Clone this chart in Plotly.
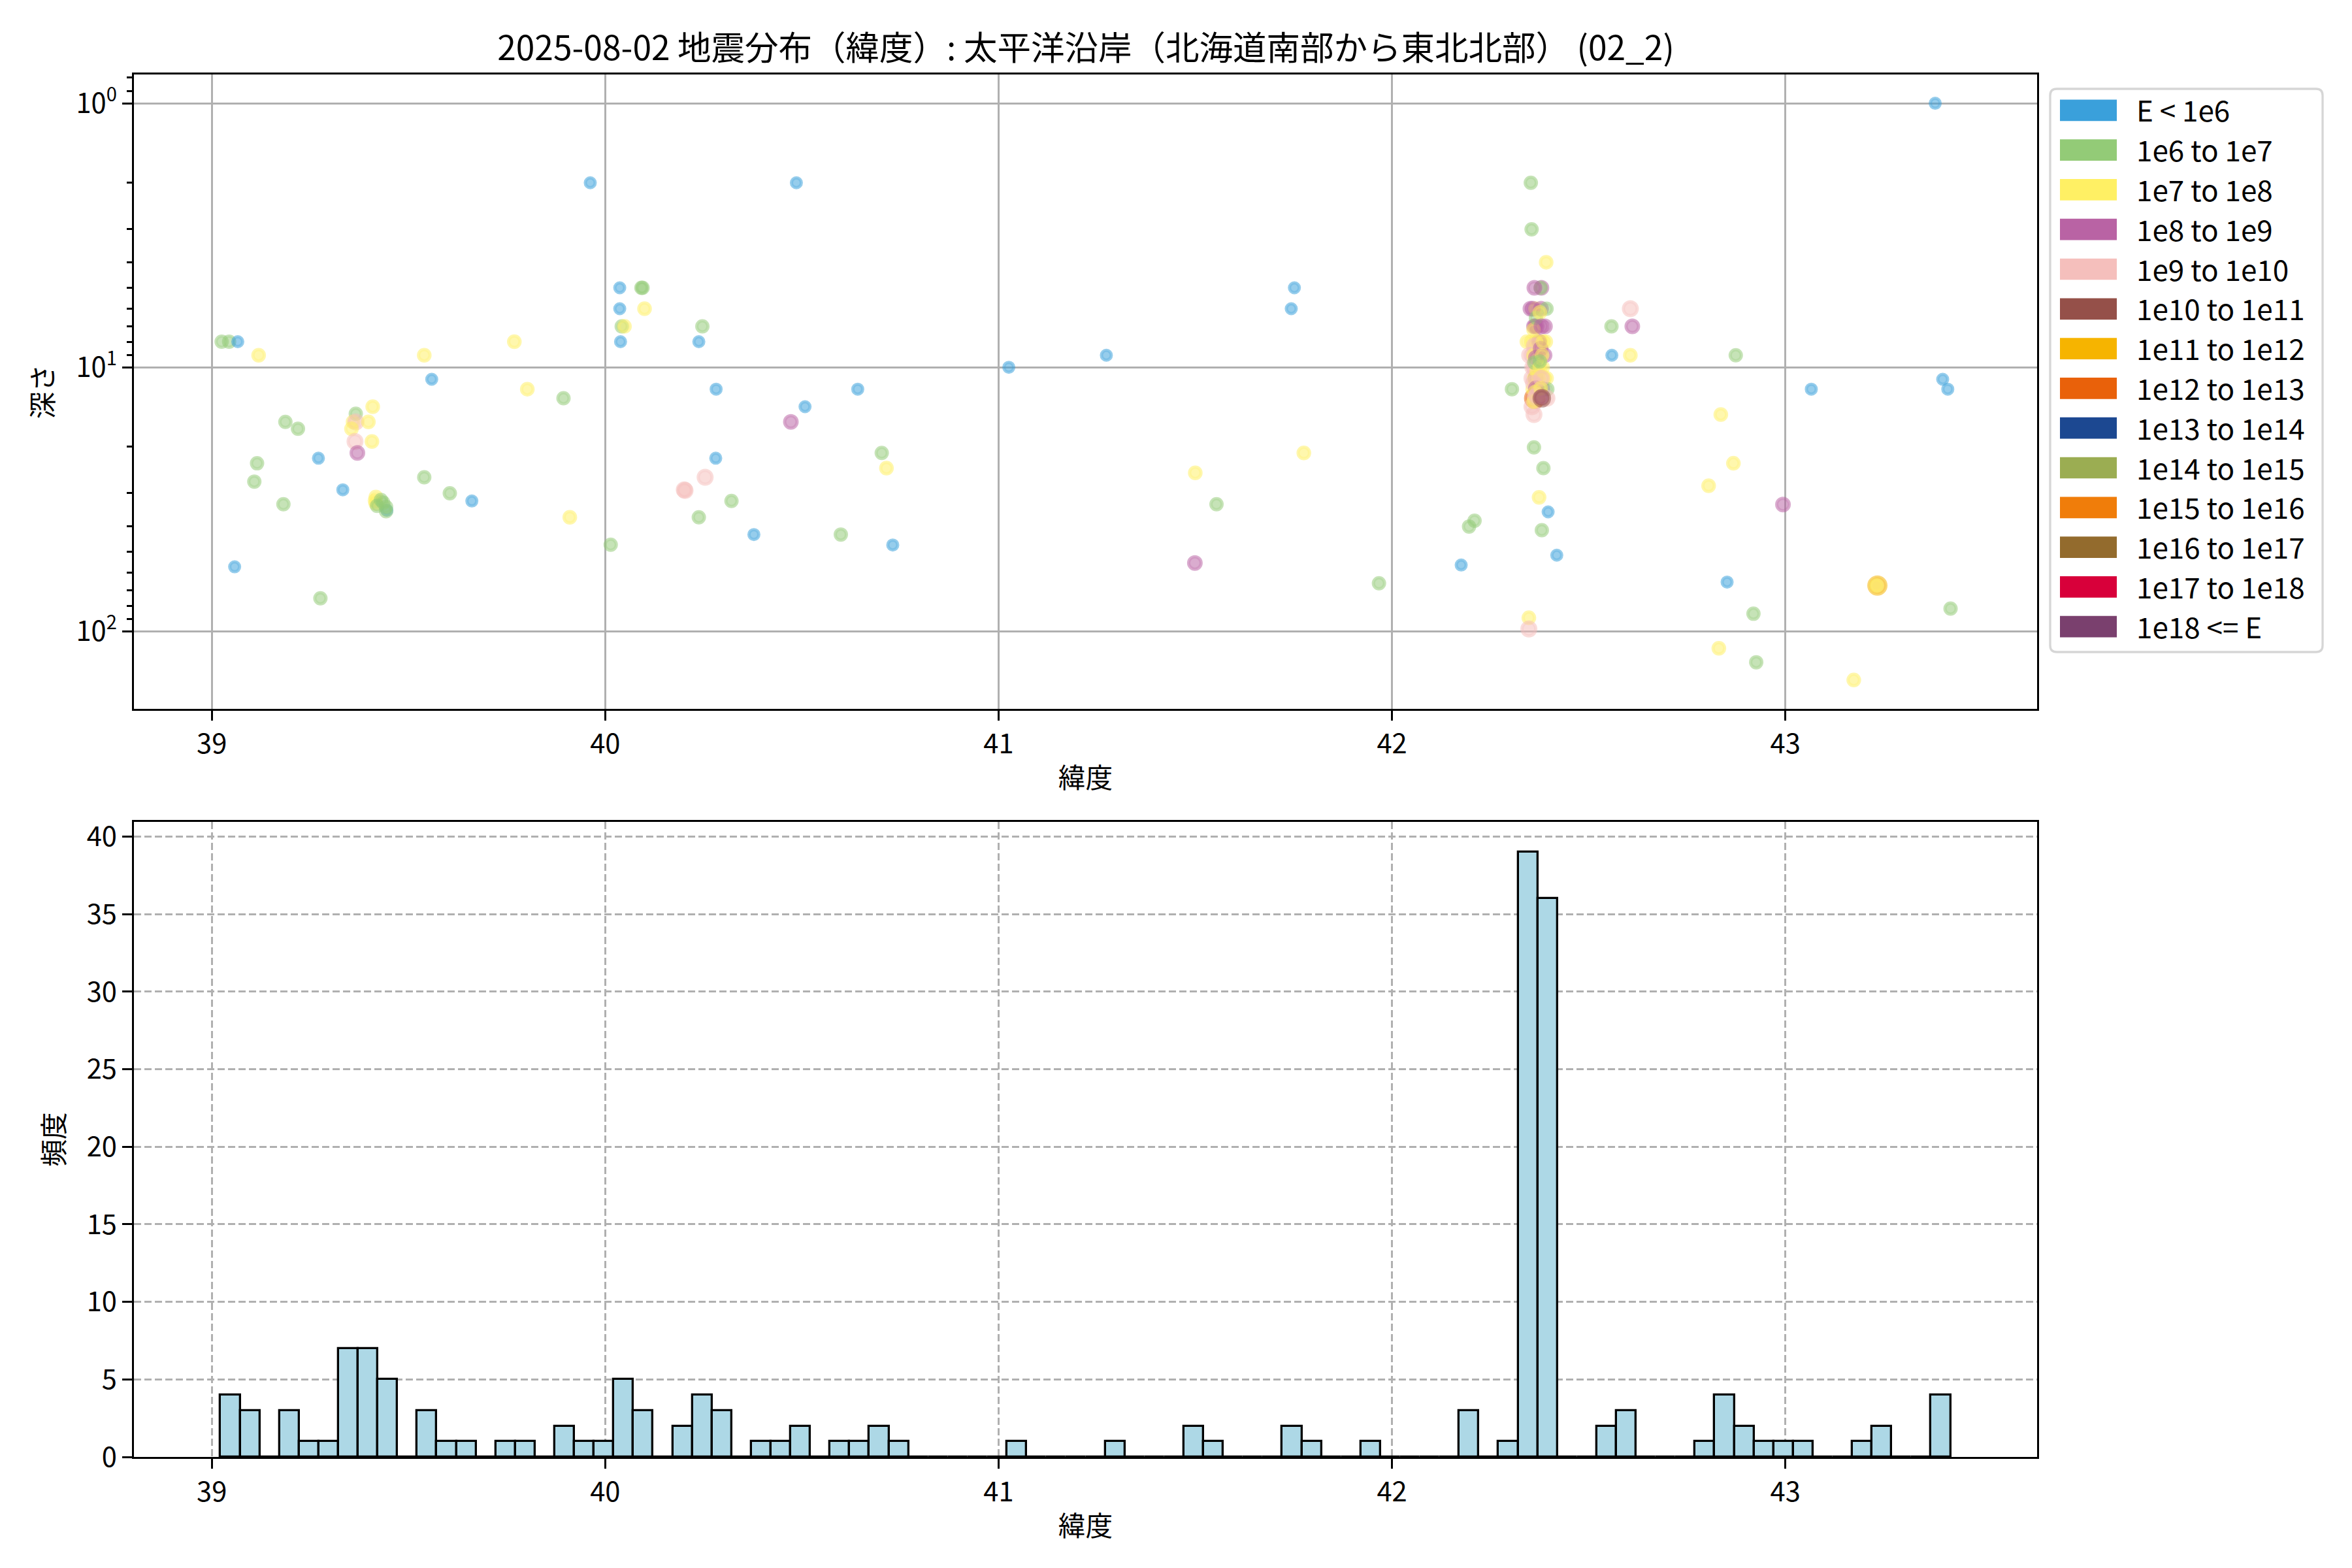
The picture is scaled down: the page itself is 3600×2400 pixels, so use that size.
import plotly.graph_objects as go

# ---------------- data ----------------
title_text = "2025-08-02 地震分布（緯度）: 太平洋沿岸（北海道南部から東北北部） (02_2)"
x_label = "緯度"
y_label_top = "深さ"
y_label_bottom = "頻度"

class_labels = ["E < 1e6", "1e6 to 1e7", "1e7 to 1e8", "1e8 to 1e9", "1e9 to 1e10",
                "1e10 to 1e11", "1e11 to 1e12", "1e12 to 1e13", "1e13 to 1e14",
                "1e14 to 1e15", "1e15 to 1e16", "1e16 to 1e17", "1e17 to 1e18", "1e18 <= E"]
class_colors = ["#3AA0DB", "#93CB77", "#FFF064", "#B963A4", "#F5BFBC", "#955049", "#F6B400",
                "#E9610A", "#1C4891", "#9BAD52", "#F07D0A", "#936B2D", "#D8003A", "#7A406E"]

# latitude / depth(km) / energy class index
lat_south = [39.025, 39.044, 39.066, 39.058, 39.119, 39.115, 39.108, 39.187, 39.219, 39.182,
             39.271, 39.276, 39.366, 39.359, 39.366, 39.355, 39.364, 39.370, 39.333, 39.409,
             39.398, 39.407, 39.417, 39.417, 39.415, 39.420, 39.445, 39.430, 39.436, 39.443,
             39.443, 39.540, 39.559, 39.540, 39.605, 39.661, 39.769, 39.802, 39.894, 39.910,
             39.962, 40.014, 40.037, 40.037, 40.042, 40.049, 40.039, 40.092, 40.095, 40.100,
             40.201, 40.203, 40.247, 40.238, 40.254, 40.238, 40.282, 40.281, 40.321, 40.378,
             40.472, 40.486, 40.508, 40.599, 40.642, 40.703, 40.715, 40.731, 41.026]
depth_south = [8.0, 8.0, 8.0, 57.0, 9.0, 23.1, 27.1, 16.1, 17.1, 33.0,
               22.1, 75.0, 15.0, 16.1, 16.1, 17.1, 19.1, 21.1, 29.1, 14.1,
               16.1, 19.1, 31.0, 32.8, 32.0, 33.5, 34.8, 31.8, 32.6, 33.8,
               35.1, 9.0, 11.1, 26.1, 30.0, 32.1, 8.0, 12.1, 13.1, 37.0,
               2.0, 47.0, 5.0, 6.0, 7.0, 7.0, 8.0, 5.0, 5.0, 6.0,
               29.1, 29.3, 7.0, 8.0, 26.1, 37.0, 12.1, 22.1, 32.1, 43.0,
               16.1, 2.0, 14.1, 43.0, 12.1, 21.1, 24.1, 47.1, 10.0]
class_south = [1, 1, 0, 0, 2, 1, 1, 1, 1, 1,
               0, 1, 1, 2, 4, 2, 4, 3, 0, 2,
               2, 2, 2, 2, 2, 1, 0, 1, 1, 1,
               1, 2, 0, 1, 1, 0, 2, 2, 1, 2,
               0, 1, 0, 0, 1, 2, 0, 1, 1, 2,
               4, 4, 1, 0, 4, 1, 0, 0, 1, 0,
               3, 0, 0, 1, 0, 1, 2, 0, 0]

lat_north = [41.274, 41.500, 41.499, 41.554, 41.752, 41.744, 41.776, 41.967, 42.210, 42.196,
             42.176, 42.305, 42.558, 42.559, 42.606, 42.611, 42.606, 42.805, 42.836, 42.852,
             42.831, 42.868, 42.874, 42.919, 42.926, 42.994, 43.066, 43.174, 43.234, 43.232,
             43.381, 43.400, 43.413, 43.420]
depth_north = [9.0, 25.1, 55.1, 33.0, 5.0, 6.0, 21.1, 65.8, 38.1, 40.1,
               56.1, 12.1, 7.0, 9.0, 6.0, 7.0, 9.0, 28.1, 15.1, 65.1,
               116.0, 23.1, 9.0, 85.8, 131.0, 33.1, 12.1, 153.0, 67.1, 67.1,
               1.0, 11.1, 12.1, 82.0]
class_north = [0, 2, 3, 1, 0, 0, 2, 1, 1, 1,
               0, 1, 1, 0, 4, 3, 2, 2, 2, 0,
               2, 2, 1, 1, 1, 3, 0, 2, 6, 2,
               0, 0, 0, 1]

lat_cluster = [42.363, 42.353, 42.355, 42.392, 42.380, 42.378, 42.352, 42.365, 42.379, 42.393,
               42.361, 42.368, 42.389, 42.343, 42.354, 42.378, 42.391, 42.374, 42.350, 42.358,
               42.378, 42.388, 42.358, 42.372, 42.383, 42.356, 42.365, 42.372, 42.387, 42.393,
               42.358, 42.376, 42.383, 42.395, 42.356, 42.361, 42.394, 42.361, 42.385, 42.374,
               42.397, 42.381, 42.419, 42.348, 42.348, 42.362, 42.358, 42.364, 42.360, 42.366,
               42.362, 42.360, 42.366, 42.362, 42.368, 42.362, 42.360, 42.366, 42.364, 42.364,
               42.360, 42.366, 42.362, 42.368, 42.376, 42.380, 42.378, 42.382, 42.376, 42.380,
               42.378, 42.380, 42.376, 42.384, 42.381]
depth_cluster = [13.1, 2.0, 3.0, 4.0, 5.0, 5.0, 6.0, 6.0, 6.0, 6.0,
                 7.0, 7.0, 7.0, 8.0, 8.0, 8.0, 8.0, 8.0, 9.0, 9.0,
                 9.0, 9.0, 10.0, 10.0, 10.0, 11.0, 11.0, 11.0, 11.0, 11.0,
                 12.1, 12.1, 12.1, 12.1, 14.1, 15.1, 13.1, 20.1, 24.1, 31.1,
                 35.3, 41.4, 51.5, 88.9, 98.0, 5.0, 6.0, 7.0, 7.2, 8.0,
                 8.3, 9.0, 9.2, 10.0, 10.3, 11.0, 11.5, 12.0, 12.4, 13.0,
                 13.5, 6.5, 9.6, 12.8, 6.2, 7.0, 8.5, 9.0, 10.0, 11.0,
                 12.0, 13.0, 9.5, 8.0, 13.1]
class_cluster = [7, 1, 1, 2, 3, 1, 3, 2, 3, 1,
                 3, 3, 3, 2, 2, 2, 2, 3, 4, 4,
                 2, 3, 4, 2, 2, 4, 3, 2, 2, 2,
                 2, 2, 3, 1, 4, 4, 4, 1, 1, 2,
                 0, 1, 0, 2, 4, 3, 3, 3, 2, 2,
                 4, 2, 3, 4, 2, 2, 4, 3, 2, 4,
                 2, 1, 1, 4, 2, 3, 3, 2, 2, 4,
                 2, 3, 1, 2, 5]

# histogram (88 bins between the southern- and northern-most epicentres)
hist_lat_min = 39.022
hist_lat_max = 43.420
hist_counts = [4, 3, 0, 3, 1, 1, 7, 7, 5, 0,
               3, 1, 1, 0, 1, 1, 0, 2, 1, 1,
               5, 3, 0, 2, 4, 3, 0, 1, 1, 2,
               0, 1, 1, 2, 1, 0, 0, 0, 0, 0,
               1, 0, 0, 0, 0, 1, 0, 0, 0, 2,
               1, 0, 0, 0, 2, 1, 0, 0, 1, 0,
               0, 0, 0, 3, 0, 1, 39, 36, 0, 0,
               2, 3, 0, 0, 0, 1, 4, 2, 1, 1,
               1, 0, 0, 1, 2, 0, 0, 4]

x_ticks = [39, 40, 41, 42, 43]

# ---------------- figure ----------------
OFF = 8                      # default page margin of the html body
W, H = 3600 - OFF, 2400 - OFF
FONT = "Noto Sans CJK JP, Noto Sans, sans-serif"
fs = 41.67


def fx(px):
    return (px - OFF) / W


def fy(py):
    return 1 - (py - OFF) / H


lats = lat_south + lat_north + lat_cluster
depths = depth_south + depth_north + depth_cluster
classes = class_south + class_north + class_cluster

marker_sizes = [15, 17, 17.5, 19, 21, 23.5, 26, 28, 30, 32, 34, 36, 38, 40]


def rgba(hex_color, a):
    h = hex_color.lstrip("#")
    r, g, b = int(h[0:2], 16), int(h[2:4], 16), int(h[4:6], 16)
    return f"rgba({r},{g},{b},{a})"


alpha = 0.75
fig = go.Figure()
fig.add_trace(go.Scatter(
    x=lats, y=depths, mode="markers", showlegend=False, xaxis="x", yaxis="y",
    marker=dict(
        size=[marker_sizes[c] for c in classes],
        color=[rgba(class_colors[c], alpha) for c in classes],
        line=dict(color=[rgba(class_colors[c], alpha) for c in classes], width=5),
    ),
))

n_bins = len(hist_counts)
bw = (hist_lat_max - hist_lat_min) / n_bins
centers = [hist_lat_min + bw * (i + 0.5) for i in range(n_bins)]
fig.add_trace(go.Bar(
    x=centers, y=hist_counts, width=[bw] * n_bins, xaxis="x2", yaxis="y2", showlegend=False,
    marker=dict(color="#ADD8E6", line=dict(color="black", width=3.3)),
))

xr = [38.802, 43.640]
xdom = [fx(205), fx(3118)]
axis_common = dict(showline=True, mirror=True, linecolor="black", linewidth=3.3,
                   ticks="outside", ticklen=14.6, tickwidth=3.3, tickcolor="black",
                   tickfont=dict(family=FONT, size=fs, color="black"), zeroline=False,
                   automargin=False)

fig.update_layout(
    width=W, height=H, margin=dict(l=0, r=0, t=0, b=0, autoexpand=False),
    paper_bgcolor="white", plot_bgcolor="white",
    font=dict(family=FONT, size=fs, color="black"),
    bargap=0,
    title=dict(text=title_text, x=fx(1662), xanchor="center", y=fy(74), yanchor="middle",
               font=dict(family=FONT, size=51.5, color="black"), automargin=False),
    xaxis=dict(domain=xdom, anchor="y", range=xr, tickvals=x_ticks,
               ticktext=[str(t) for t in x_ticks],
               showgrid=True, gridcolor="#b0b0b0", gridwidth=3.3,
               title=dict(text=x_label, font=dict(family=FONT, size=fs), standoff=14),
               **axis_common),
    yaxis=dict(domain=[fy(1085), fy(114)], anchor="x", type="log",
               range=[2.2939, -0.1092], tickvals=[1, 10, 100],
               ticktext=["10<sup>0</sup>", "10<sup>1</sup>", "10<sup>2</sup>"],
               showgrid=True, gridcolor="#b0b0b0", gridwidth=3.3,
               minor=dict(tickvals=[0.8, 0.9, 2, 3, 4, 5, 6, 7, 8, 9,
                                    20, 30, 40, 50, 60, 70, 80, 90],
                          ticks="outside", ticklen=8.3, tickwidth=2.5, tickcolor="black",
                          showgrid=False),
               title=dict(text=y_label_top, font=dict(family=FONT, size=fs), standoff=22),
               **axis_common),
    xaxis2=dict(domain=xdom, anchor="y2", range=xr, tickvals=x_ticks,
                ticktext=[str(t) for t in x_ticks],
                showgrid=True, gridcolor="#b0b0b0", gridwidth=2.5, griddash="11px,5px",
                title=dict(text=x_label, font=dict(family=FONT, size=fs), standoff=14),
                **axis_common),
    yaxis2=dict(domain=[fy(2230), fy(1258)], anchor="x2", range=[0, 40.95],
                tickvals=list(range(0, 41, 5)),
                showgrid=True, gridcolor="#b0b0b0", gridwidth=2.5, griddash="11px,5px",
                title=dict(text=y_label_bottom, font=dict(family=FONT, size=fs), standoff=22),
                **axis_common),
)

# ---------------- legend (patches + labels, outside right) ----------------
bx0, bx1, by0, by1 = 3138, 3555, 136, 998
r = 10
path = (f"M {fx(bx0 + r)},{fy(by0)} L {fx(bx1 - r)},{fy(by0)} "
        f"Q {fx(bx1)},{fy(by0)} {fx(bx1)},{fy(by0 + r)} "
        f"L {fx(bx1)},{fy(by1 - r)} Q {fx(bx1)},{fy(by1)} {fx(bx1 - r)},{fy(by1)} "
        f"L {fx(bx0 + r)},{fy(by1)} Q {fx(bx0)},{fy(by1)} {fx(bx0)},{fy(by1 - r)} "
        f"L {fx(bx0)},{fy(by0 + r)} Q {fx(bx0)},{fy(by0)} {fx(bx0 + r)},{fy(by0)} Z")
shapes = [dict(type="path", xref="paper", yref="paper", path=path,
               line=dict(color="#d6d6d6", width=3.3), fillcolor="rgba(255,255,255,0.8)")]
annotations = []
row0, row_step, ph = 168.8, 60.8, 32.7
for i, (lab, col) in enumerate(zip(class_labels, class_colors)):
    yc = row0 + row_step * i
    shapes.append(dict(type="rect", xref="paper", yref="paper",
                       x0=fx(3153), x1=fx(3240), y0=fy(yc + ph / 2), y1=fy(yc - ph / 2),
                       fillcolor=col, line=dict(width=0)))
    annotations.append(dict(text=lab, xref="paper", yref="paper", x=fx(3268), y=fy(yc - 1.5),
                            xanchor="left", yanchor="middle", showarrow=False,
                            font=dict(family=FONT, size=44, color="black")))

fig.update_layout(shapes=shapes, annotations=annotations)
fig.write_html("out.html")
